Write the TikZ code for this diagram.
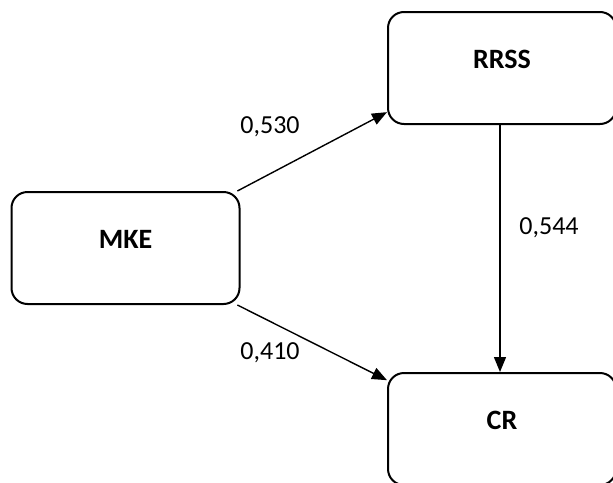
\documentclass[tikz,border=0pt]{standalone}
\usepackage{fontspec}
\setmainfont{Carlito}
\usetikzlibrary{positioning,arrows.meta}
\tikzset{
  varbox/.style={draw,line width=2pt,rounded corners=16pt,minimum width=228pt,
    minimum height=112pt,font=\fontsize{28}{30}\selectfont\bfseries,
    text height=18pt,text depth=18pt},
  coef/.style={font=\fontsize{26}{30}\selectfont},
  path/.style={line width=1.4pt,-{Triangle[length=15pt,width=12pt]}}
}
\begin{document}
\begin{tikzpicture}[x=1pt,y=-1pt]
\useasboundingbox (0,0) rectangle (613,482);
% constructs
\node[varbox] (mke) at (125.5,248) {MKE};
\node[varbox] (rrss) at (502,68) {RRSS};
\node[varbox] (cr) at (502,429) {CR};
% paths
\draw[path] (mke.27) -- (rrss.201);
\draw[path] (mke.333) -- (cr.157);
\draw[path] ([xshift=-2pt]rrss.south) -- ([xshift=-2pt]cr.north);
% coefficients
\node[coef] (b1) at (270,127) {0,530};
\node[coef] (b2) at (549,228) {0,544};
\node[coef] (b3) at (270,353) {0,410};
\end{tikzpicture}
\end{document}
